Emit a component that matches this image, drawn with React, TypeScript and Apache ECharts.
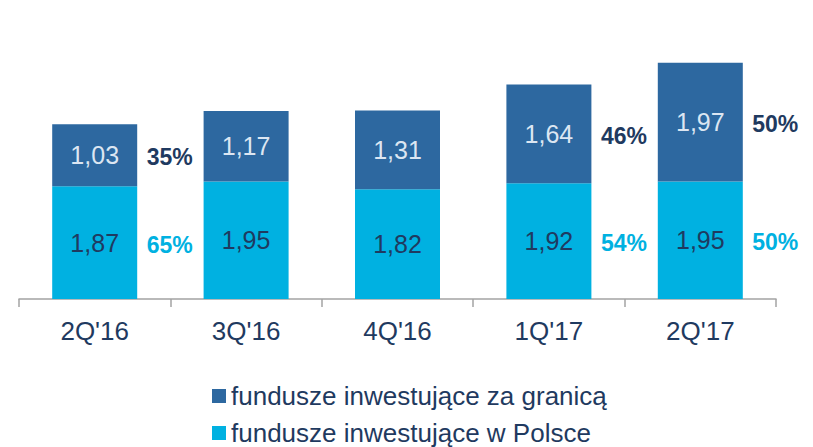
import React, { useEffect, useRef } from "react";
import * as echarts from "echarts";

const categories = ["2Q'16", "3Q'16", "4Q'16", "1Q'17", "2Q'17"];
const polandValues = [1.87, 1.95, 1.82, 1.92, 1.95];
const abroadValues = [1.03, 1.17, 1.31, 1.64, 1.97];
const polandPct: (number | null)[] = [65, null, null, 54, 50];
const abroadPct: (number | null)[] = [35, null, null, 46, 50];
const seriesNames = ["fundusze inwestujące za granicą", "fundusze inwestujące w Polsce"];

const DARK = "#2d68a0";
const LIGHT = "#00b1e1";
const NAVY = "#1f3a60";
const FONT = "Liberation Sans, Arial, sans-serif";

const fmt = (v: number) => v.toFixed(2).replace(".", ",");

export default function App() {
  const ref = useRef<HTMLDivElement>(null);
  useEffect(() => {
    if (!ref.current) return;
    const chart = echarts.init(ref.current, null, { renderer: "svg" });
    const pctPolandData = polandPct
      .map((p, i) => (p == null ? null : { value: [i, polandValues[i] / 2], pct: p }))
      .filter((d) => d !== null);
    const pctAbroadData = abroadPct
      .map((p, i) => (p == null ? null : { value: [i, polandValues[i] + abroadValues[i] / 2], pct: p }))
      .filter((d) => d !== null);
    const legendBase = {
      orient: "horizontal",
      left: 212,
      padding: 0,
      itemWidth: 14,
      itemHeight: 14,
      icon: "rect",
      textStyle: { fontSize: 26, color: NAVY, fontFamily: FONT, lineHeight: 26 },
      selectedMode: false,
    };
    const pctLabel = (color: string) => ({
      show: true,
      position: "inside",
      offset: [75, 2],
      fontSize: 23,
      fontWeight: "bold",
      color,
      opacity: 1,
      fontFamily: FONT,
      formatter: (p: any) => p.data.pct + "%",
    });
    chart.setOption({
      animation: false,
      textStyle: { fontFamily: FONT },
      grid: { left: 19, right: 37, top: 58, bottom: 148 },
      legend: [
        { ...legendBase, top: 383, data: [{ name: seriesNames[0], itemStyle: { color: DARK } }] },
        { ...legendBase, top: 420, data: [{ name: seriesNames[1], itemStyle: { color: LIGHT } }] },
      ],
      xAxis: {
        type: "category",
        data: categories,
        boundaryGap: true,
        axisLine: { lineStyle: { color: "#a3a3a3", width: 1.5 } },
        axisTick: { show: true, length: 8, lineStyle: { color: "#a3a3a3", width: 1.5 } },
        axisLabel: { fontSize: 26, color: NAVY, margin: 19, fontFamily: FONT },
      },
      yAxis: {
        type: "value",
        min: 0,
        max: 4,
        show: false,
        splitLine: { show: false },
      },
      series: [
        {
          name: seriesNames[1],
          type: "bar",
          stack: "total",
          barWidth: 85,
          data: polandValues,
          itemStyle: { color: LIGHT },
          label: {
            show: true,
            position: "inside",
            fontSize: 25,
            color: NAVY,
            fontFamily: FONT,
            formatter: (p: any) => fmt(p.value),
          },
          silent: true,
        },
        {
          name: seriesNames[0],
          type: "bar",
          stack: "total",
          barWidth: 85,
          data: abroadValues,
          itemStyle: { color: DARK },
          label: {
            show: true,
            position: "inside",
            fontSize: 25,
            color: "#dce6f2",
            fontFamily: FONT,
            formatter: (p: any) => fmt(p.value),
          },
          silent: true,
        },
        {
          type: "scatter",
          symbolSize: 0,
          data: pctPolandData,
          silent: true,
          itemStyle: { opacity: 1 },
          label: pctLabel(LIGHT),
        },
        {
          type: "scatter",
          symbolSize: 0,
          data: pctAbroadData,
          silent: true,
          itemStyle: { opacity: 1 },
          label: pctLabel(NAVY),
        },
      ],
    });
    return () => chart.dispose();
  }, []);
  return <div ref={ref} style={{ width: 813, height: 447, position: "absolute", left: 0, top: 0 }} />;
}
